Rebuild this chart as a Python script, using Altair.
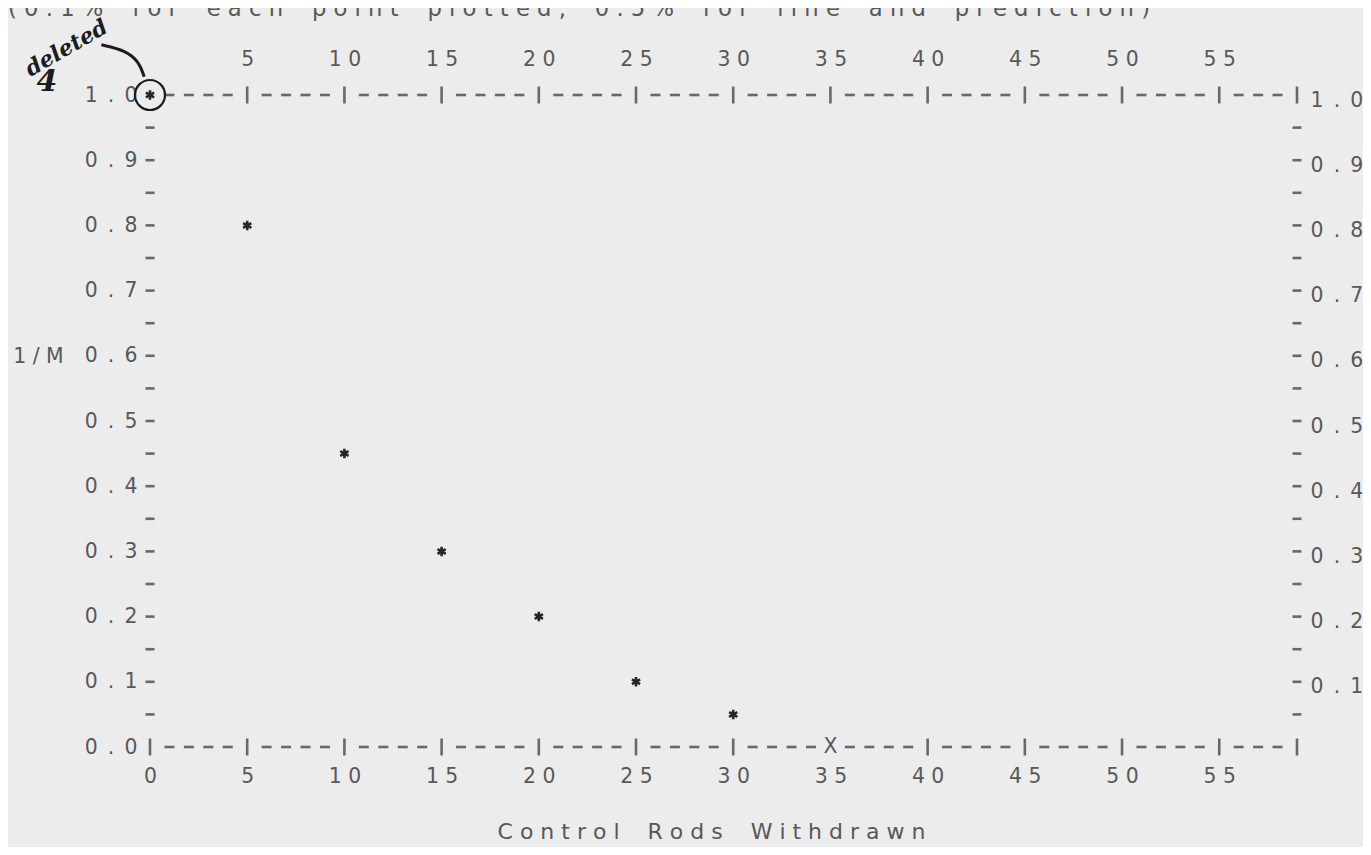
import altair as alt
import pandas as pd

# ---------------- values ----------------
rods = [0, 5, 10, 15, 20, 25, 30]
inv_m = [1.0, 0.8, 0.45, 0.3, 0.2, 0.1, 0.05]
deleted_rods = [0]
deleted_inv_m = [1.0]
pred_rods = [35]
pred_inv_m = [0.0]

x_max = 59
x_ticks_bottom = [0, 5, 10, 15, 20, 25, 30, 35, 40, 45, 50, 55]
x_ticks_top = [5, 10, 15, 20, 25, 30, 35, 40, 45, 50, 55]
y_ticks_left = [0.0, 0.1, 0.2, 0.3, 0.4, 0.5, 0.6, 0.7, 0.8, 0.9, 1.0]
y_ticks_right = [0.1, 0.2, 0.3, 0.4, 0.5, 0.6, 0.7, 0.8, 0.9, 1.0]
y_minor = [0.05, 0.1, 0.15, 0.2, 0.25, 0.3, 0.35, 0.4, 0.45, 0.5,
           0.55, 0.6, 0.65, 0.7, 0.75, 0.8, 0.85, 0.9, 0.95]

header_text = "(0.1% for each point plotted, 0.5% for line and prediction)"
x_title = "Control Rods Withdrawn"
y_title = "1/M"

note_text = ["deleted", "4"]
note_x = [-4.3, -5.3]
note_y = [1.072, 1.02]
note_angle = [330, 0]
note_size = [22, 30]
arrow_x = [-2.5, -1.3, -0.55, -0.3]
arrow_y = [1.077, 1.069, 1.051, 1.028]

# ---------------- styling ----------------
FONT = "DejaVu Sans"
GRAY = "#585858"
DASH = "#686868"
INK = "#1c1c1c"
FS = 20.4


def spaced(s):
    return " ".join("\u2007" if c == " " else c for c in s)


# ---------------- tables built from the arrays ----------------
pts = pd.DataFrame({"rods": rods, "inv_m": inv_m})
deleted = pd.DataFrame({"rods": deleted_rods, "inv_m": deleted_inv_m})
pred = pd.DataFrame({"rods": pred_rods, "inv_m": pred_inv_m, "t": ["X"] * len(pred_rods)})

dash_cols = [c for c in range(1, x_max) if c % 5 != 0]
hdash = pd.DataFrame(
    [{"c": c, "v": v} for v in (0.0, 1.0) for c in dash_cols]
)
ydash = pd.DataFrame([{"c": c, "v": v} for c in (0, x_max) for v in y_minor])
top_bars = x_ticks_top + [x_max]
bottom_bars = [c for c in x_ticks_bottom if c not in pred_rods] + [x_max]
bars = pd.DataFrame(
    [{"c": c, "v": 1.0} for c in top_bars] + [{"c": c, "v": 0.0} for c in bottom_bars]
)
notes = pd.DataFrame({"t": note_text, "x": note_x, "y": note_y,
                      "a": note_angle, "s": note_size})
arrow = pd.DataFrame({"x": arrow_x, "y": arrow_y, "o": list(range(len(arrow_x)))})
hdr = pd.DataFrame({"t": [spaced(header_text)]})

xs = alt.Scale(domain=[0, x_max], nice=False, zero=False)
ys = alt.Scale(domain=[0, 1], nice=False, zero=False)

common = dict(domain=False, ticks=False, tickSize=0, grid=False,
              labelFont=FONT, labelFontSize=FS, labelColor=GRAY,
              labelOverlap=False, labelFlush=False, labelBound=False)

two_digit = ("length(datum.label) > 1 ? substring(datum.label, 0, 1) + ' ' + "
             "substring(datum.label, 1) : datum.label")

x_bottom = alt.Axis(
    orient="bottom", values=x_ticks_bottom, format="d", labelExpr=two_digit,
    labelAlign="center", labelBaseline="middle", labelPadding=29,
    title=spaced(x_title), titleFont=FONT, titleFontSize=22, titleFontWeight="normal",
    titleColor=GRAY, titleX=561, titleY=84, titleAlign="center", titleBaseline="middle",
    **common)
x_top = alt.Axis(
    orient="top", values=x_ticks_top, format="d", labelExpr=two_digit,
    labelAlign="center", labelBaseline="middle", labelPadding=36, title=None, **common)
y_left = alt.Axis(
    orient="left", values=y_ticks_left, format=".1f",
    labelExpr="replace(datum.label, '.', '\u2002.\u2002')",
    labelAlign="right", labelBaseline="middle", labelPadding=13,
    title="1 / M", titleFont=FONT, titleFontSize=FS, titleFontWeight="normal",
    titleColor=GRAY, titleAngle=0, titleX=-112, titleY=261,
    titleAlign="center", titleBaseline="middle", **common)
y_right = alt.Axis(
    orient="right", values=y_ticks_right, format=".1f",
    labelExpr="replace(datum.label, '.', '\u2002.\u2002')",
    labelAlign="left", labelBaseline="middle", labelPadding=13, labelOffset=5,
    title=None, **common)

dash_layer = alt.Chart(hdash).mark_tick(
    orient="horizontal", size=10, thickness=2.6, color=DASH, opacity=1
).encode(x=alt.X("c:Q", scale=xs, axis=x_top), y=alt.Y("v:Q", scale=ys, axis=y_right))

ydash_layer = alt.Chart(ydash).mark_tick(
    orient="horizontal", size=9, thickness=2.6, color=DASH, opacity=1
).encode(x=alt.X("c:Q", scale=xs, axis=None), y=alt.Y("v:Q", scale=ys, axis=None))

bar_layer = alt.Chart(bars).mark_tick(
    orient="vertical", size=17, thickness=2.6, color=DASH, opacity=1
).encode(x=alt.X("c:Q", scale=xs, axis=None), y=alt.Y("v:Q", scale=ys, axis=None))

star_path = "M0,-1L0,1M-0.87,-0.5L0.87,0.5M-0.87,0.5L0.87,-0.5"
star_layer = alt.Chart(pts).mark_point(
    shape=star_path, size=90, filled=False, strokeWidth=2.6, color="#262626", opacity=1
).encode(x=alt.X("rods:Q", scale=xs, axis=x_bottom), y=alt.Y("inv_m:Q", scale=ys, axis=y_left))

pred_layer = alt.Chart(pred).mark_text(
    font=FONT, fontSize=FS, color=GRAY, align="center", baseline="middle"
).encode(x=alt.X("rods:Q", scale=xs, axis=None), y=alt.Y("inv_m:Q", scale=ys, axis=None), text="t:N")

circle_layer = alt.Chart(deleted).mark_point(
    shape="circle", size=900, filled=False, stroke=INK, strokeWidth=2.2, opacity=1
).encode(x=alt.X("rods:Q", scale=xs, axis=None), y=alt.Y("inv_m:Q", scale=ys, axis=None))

note_layer = alt.Chart(notes).mark_text(
    font="DejaVu Serif", fontStyle="italic", fontWeight="bold", color=INK,
    align="center", baseline="middle"
).encode(x=alt.X("x:Q", scale=xs, axis=None), y=alt.Y("y:Q", scale=ys, axis=None),
         text="t:N", angle=alt.Angle("a:Q", scale=None), size=alt.Size("s:Q", scale=None, legend=None))

arrow_layer = alt.Chart(arrow).mark_line(
    interpolate="basis", color=INK, strokeWidth=3
).encode(x=alt.X("x:Q", scale=xs, axis=None), y=alt.Y("y:Q", scale=ys, axis=None), order="o:Q")

header_layer = alt.Chart(hdr).mark_text(
    font=FONT, fontSize=22.7, color=GRAY, align="left", baseline="alphabetic"
).encode(x=alt.value(-142), y=alt.value(-79), text="t:N")

chart = alt.layer(
    dash_layer, ydash_layer, bar_layer, star_layer, pred_layer,
    circle_layer, note_layer, arrow_layer, header_layer
).resolve_axis(x="independent", y="independent").properties(
    width=1147, height=652,
    autosize=alt.AutoSizeParams(type="none"),
    padding={"left": 142, "top": 87, "right": 66, "bottom": 100},
    background="#ececec",
).configure_view(stroke=None)

chart.save("out.html", embed_options={"renderer": "svg", "actions": False})
